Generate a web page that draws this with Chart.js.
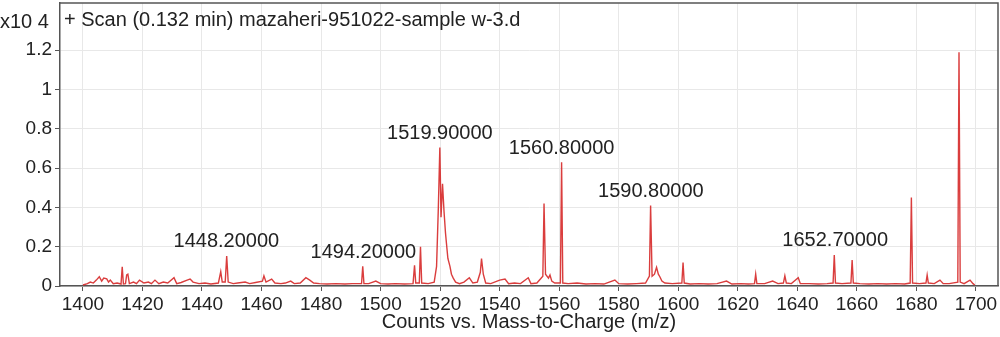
<!DOCTYPE html>
<html>
<head>
<meta charset="utf-8">
<script src="https://cdn.jsdelivr.net/npm/chart.js@4.4.0/dist/chart.umd.min.js"></script>
<style>
html, body { margin: 0; padding: 0; background: #fff; }
</style>
</head>
<body>
<canvas id="msChart" width="1000" height="337"></canvas>
<script>
// spectrum, counts in units of 10^4
const mz = [
    1400.0, 1401.5, 1402.5, 1403.5, 1404.5, 1405.5, 1406.3, 1407.0, 1408.0, 1408.6,
    1409.2, 1410.2, 1411.5, 1412.8, 1413.2, 1413.6, 1414.3, 1414.7, 1415.1, 1415.6,
    1417.0, 1418.0, 1419.0, 1420.5, 1422.0, 1423.0, 1424.2, 1425.5, 1427.0, 1428.5,
    1430.6, 1431.5, 1433.0, 1435.0, 1436.0, 1437.0, 1439.0, 1441.0, 1443.0, 1445.5,
    1446.3, 1446.8, 1447.8, 1448.3, 1448.8, 1450.5, 1452.0, 1454.5, 1456.0, 1458.0,
    1460.3, 1460.8, 1461.5, 1463.4, 1464.5, 1466.5, 1468.0, 1469.8, 1471.0, 1473.0,
    1474.9, 1476.2, 1477.5, 1479.5, 1482.0, 1485.0, 1488.0, 1490.5, 1493.6, 1494.0,
    1494.4, 1496.0, 1498.4, 1500.0, 1502.5, 1505.0, 1508.0, 1510.9, 1511.4, 1511.8,
    1513.0, 1513.4, 1513.8, 1516.0, 1518.0, 1518.8, 1519.4, 1519.9, 1520.3, 1520.8,
    1521.3, 1521.8, 1522.1, 1522.6, 1523.3, 1523.8, 1524.4, 1525.2, 1526.5, 1528.0,
    1529.8, 1531.0, 1532.5, 1533.5, 1533.9, 1534.5, 1535.3, 1537.0, 1540.0, 1541.8,
    1543.0, 1545.0, 1547.0, 1549.6, 1550.5, 1552.5, 1554.5, 1554.9, 1555.4, 1556.4,
    1556.9, 1557.5, 1558.5, 1560.4, 1560.8, 1561.2, 1563.0, 1566.0, 1569.0, 1572.0,
    1575.0, 1578.7, 1580.0, 1583.0, 1586.0, 1589.0, 1590.3, 1590.7, 1591.2, 1592.0,
    1592.7, 1593.3, 1593.8, 1594.5, 1595.5, 1598.0, 1601.2, 1601.6, 1602.0, 1604.0,
    1607.0, 1610.0, 1613.0, 1616.2, 1618.0, 1621.0, 1623.5, 1625.6, 1626.0, 1626.4,
    1629.0, 1631.7, 1633.5, 1635.3, 1635.8, 1636.3, 1638.0, 1640.3, 1641.0, 1644.0,
    1647.0, 1650.0, 1652.0, 1652.4, 1652.8, 1655.0, 1658.0, 1658.4, 1658.8, 1661.0,
    1664.0, 1667.0, 1670.0, 1673.0, 1676.0, 1677.9, 1678.3, 1678.7, 1681.0, 1683.2,
    1683.6, 1684.0, 1686.0, 1687.9, 1689.0, 1691.0, 1693.9, 1694.3, 1694.7, 1696.0,
    1698.0, 1699.0, 1699.6
];
const counts = [
    0.005, 0.012, 0.020, 0.015, 0.030, 0.047, 0.025, 0.040, 0.036, 0.020,
    0.030, 0.012, 0.015, 0.010, 0.098, 0.010, 0.012, 0.056, 0.060, 0.012,
    0.020, 0.012, 0.030, 0.015, 0.020, 0.012, 0.030, 0.012, 0.020, 0.015,
    0.042, 0.012, 0.018, 0.030, 0.035, 0.020, 0.012, 0.015, 0.010, 0.015,
    0.073, 0.020, 0.020, 0.153, 0.020, 0.012, 0.015, 0.020, 0.012, 0.018,
    0.025, 0.052, 0.020, 0.035, 0.015, 0.012, 0.015, 0.025, 0.012, 0.015,
    0.042, 0.030, 0.015, 0.012, 0.010, 0.012, 0.010, 0.012, 0.012, 0.100,
    0.012, 0.012, 0.025, 0.012, 0.010, 0.012, 0.010, 0.012, 0.105, 0.015,
    0.015, 0.200, 0.015, 0.012, 0.020, 0.100, 0.400, 0.705, 0.350, 0.520,
    0.380, 0.270, 0.220, 0.140, 0.100, 0.060, 0.040, 0.020, 0.012, 0.020,
    0.042, 0.015, 0.020, 0.070, 0.140, 0.060, 0.015, 0.012, 0.030, 0.035,
    0.012, 0.015, 0.012, 0.042, 0.012, 0.015, 0.050, 0.420, 0.060, 0.040,
    0.056, 0.025, 0.015, 0.015, 0.630, 0.015, 0.012, 0.015, 0.010, 0.012,
    0.010, 0.030, 0.012, 0.010, 0.012, 0.015, 0.050, 0.410, 0.050, 0.060,
    0.095, 0.060, 0.047, 0.025, 0.015, 0.012, 0.015, 0.120, 0.015, 0.010,
    0.012, 0.010, 0.012, 0.025, 0.010, 0.012, 0.010, 0.012, 0.060, 0.012,
    0.012, 0.025, 0.012, 0.015, 0.052, 0.015, 0.012, 0.042, 0.012, 0.012,
    0.010, 0.012, 0.015, 0.158, 0.015, 0.012, 0.015, 0.132, 0.015, 0.012,
    0.010, 0.012, 0.010, 0.012, 0.010, 0.015, 0.450, 0.015, 0.012, 0.015,
    0.056, 0.015, 0.012, 0.030, 0.012, 0.012, 0.020, 1.190, 0.020, 0.012,
    0.030, 0.012, 0.005
];
const peakLabels = [1448.2, 1494.2, 1519.9, 1560.8, 1590.8, 1652.7];
const xTicks = [1400, 1420, 1440, 1460, 1480, 1500, 1520, 1540, 1560, 1580, 1600, 1620, 1640, 1660, 1680, 1700];
const yTicks = [0, 0.2, 0.4, 0.6, 0.8, 1, 1.2];

const scanTitle = '+ Scan (0.132 min) mazaheri-951022-sample w-3.d';
const yMultiplier = 'x10 4';
const xTitle = 'Counts vs. Mass-to-Charge (m/z)';

const FONT = '"Liberation Sans", Arial, sans-serif';
const TEXT = '#222';
const AXIS = '#555';

// top and right frame lines, under the trace
const framePlugin = {
    id: 'frame',
    beforeDatasetsDraw(chart) {
        const { ctx, chartArea: a } = chart;
        ctx.save();
        ctx.strokeStyle = AXIS;
        ctx.lineWidth = 1.5;
        ctx.beginPath();
        ctx.moveTo(a.left, a.top);
        ctx.lineTo(a.right, a.top);
        ctx.lineTo(a.right, a.bottom);
        ctx.stroke();
        ctx.restore();
    }
};

// peak labels and header texts
const textPlugin = {
    id: 'texts',
    afterDatasetsDraw(chart) {
        const { ctx, scales } = chart;
        ctx.save();
        ctx.fillStyle = TEXT;
        ctx.textBaseline = 'middle';

        ctx.font = '20px ' + FONT;
        ctx.textAlign = 'left';
        ctx.fillText(scanTitle, 64, 20);
        ctx.fillText(yMultiplier, 0, 22);

        ctx.textAlign = 'center';
        peakLabels.forEach(p => {
            let top = 0;
            mz.forEach((m, i) => {
                if (Math.abs(m - p) < 1 && counts[i] > top) top = counts[i];
            });
            const x = scales.x.getPixelForValue(p);
            const y = scales.y.getPixelForValue(top) - 14;
            ctx.fillText(p.toFixed(5), x, y);
        });
        ctx.restore();
    }
};

function renderChart() {
    const ctx = document.getElementById('msChart').getContext('2d');
    new Chart(ctx, {
        type: 'line',
        data: {
            datasets: [
                {
                    label: 'Scan',
                    data: mz.map((m, i) => ({ x: m, y: counts[i] })),
                    borderColor: 'rgba(214, 40, 40, 0.9)',
                    borderWidth: 1.4,
                    pointRadius: 0,
                    tension: 0,
                    fill: false,
                    clip: 4
                }
            ]
        },
        options: {
            responsive: false,
            animation: false,
            layout: { padding: { top: 3, right: 2, left: 0, bottom: 0 } },
            plugins: { legend: { display: false }, tooltip: { enabled: false } },
            scales: {
                x: {
                    type: 'linear',
                    min: 1392.3,
                    max: 1707.4,
                    afterBuildTicks: s => { s.ticks = xTicks.map(v => ({ value: v })); },
                    afterFit: s => {
                        s.height = 51;
                        s.paddingLeft = 0;
                        s.paddingRight = 0;
                    },
                    ticks: {
                        color: TEXT,
                        font: { family: FONT, size: 19 },
                        padding: 2,
                        maxRotation: 0,
                        autoSkip: false,
                        callback: v => String(v)
                    },
                    grid: { color: '#e8e8e8', tickColor: AXIS, tickLength: 5 },
                    border: { color: AXIS, width: 1.5 },
                    title: {
                        display: true,
                        text: xTitle,
                        color: TEXT,
                        font: { family: FONT, size: 20, lineHeight: 1.2 },
                        padding: { top: 0, bottom: 3 }
                    }
                },
                y: {
                    min: 0,
                    max: 1.44,
                    afterBuildTicks: s => { s.ticks = yTicks.map(v => ({ value: v })); },
                    afterFit: s => {
                        s.width = 60;
                        s.paddingTop = 0;
                        s.paddingBottom = 0;
                    },
                    ticks: {
                        color: TEXT,
                        font: { family: FONT, size: 19 },
                        padding: 3,
                        callback: v => String(v)
                    },
                    grid: { color: '#e8e8e8', tickColor: AXIS, tickLength: 5 },
                    border: { color: AXIS, width: 1.5 }
                }
            }
        },
        plugins: [framePlugin, textPlugin]
    });
}

document.addEventListener('DOMContentLoaded', function () {
    renderChart();
});
</script>
</body>
</html>
